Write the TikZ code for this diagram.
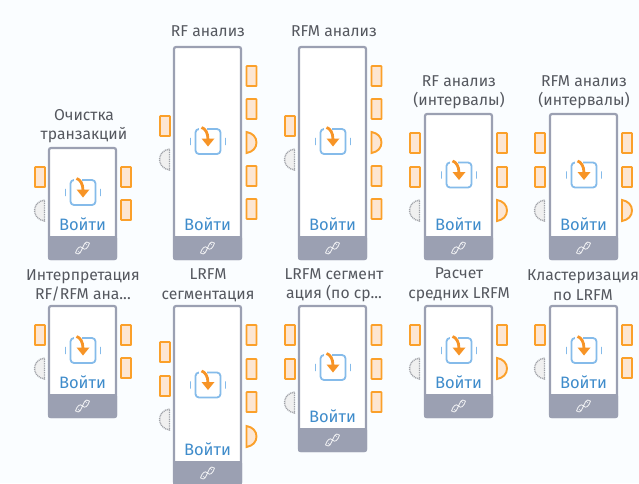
\documentclass[tikz,border=0pt]{standalone}
\usepackage{fontspec}
\setmainfont{Fira Sans}
\definecolor{bg}{HTML}{FAFDFF}
\definecolor{frame}{HTML}{9BA0B2}
\definecolor{port}{HTML}{FBA02A}
\definecolor{portfill}{HTML}{FDE6D2}
\definecolor{grayport}{HTML}{A0A2A8}
\definecolor{iconblue}{HTML}{85BBEA}
\definecolor{iconorange}{HTML}{F79426}
\definecolor{loginblue}{HTML}{3F8CCB}
\definecolor{lab}{HTML}{55585F}
\tikzset{
  x=1pt,y=-1pt,
  blockbody/.style={draw=frame,line width=2.2pt,fill=white,rounded corners=2pt},
  footer/.style={fill=frame,rounded corners=2pt},
  rectport/.style={draw=port,line width=1.9pt,fill=portfill,rounded corners=0.6pt},
  halfport/.style={draw=port,line width=1.9pt,fill=portfill},
  grayhalf/.style={draw=grayport,dash pattern=on 1pt off 0.8pt,line width=1.4pt,fill=black!6},
  helix/.style={draw=white,opacity=.8,line width=.9pt},
  title/.style={font=\fontsize{15.7}{19.5}\selectfont,text=lab,align=center,inner sep=0pt},
  login/.style={font=\fontsize{16.5}{18}\selectfont,text=loginblue,inner sep=0pt},
}
% #1 left x, #2 top y, #3 bottom y, #4 icon y, #5 name
\newcommand{\blockshape}[5]{%
  \draw[blockbody] (#1,#2) rectangle (#1+67,#3);
  \fill[footer] (#1-1,#3-23) rectangle (#1+68,#3+1);
  \draw[helix] (#1+26.5,#3-6) .. controls (#1+31,#3-3) and (#1+32,#3-8) .. (#1+33.5,#3-11) .. controls (#1+35,#3-14) and (#1+36,#3-19) .. (#1+40.5,#3-16);
  \draw[helix] (#1+26.5,#3-6) .. controls (#1+28,#3-11) and (#1+31,#3-14) .. (#1+33.5,#3-11) .. controls (#1+36,#3-8) and (#1+39,#3-11) .. (#1+40.5,#3-16);
  \draw[helix,line width=.6pt] (#1+29,#3-8) -- (#1+31,#3-6) (#1+36,#3-16) -- (#1+38,#3-14);
  \draw[iconblue,line width=1.8pt,rounded corners=3.5pt] (#1+21.5,#4-12.5) rectangle (#1+46.5,#4+12.5);
  \draw[iconblue,line width=1.8pt,line cap=round] (#1+16.5,#4-3) -- (#1+16.5,#4+3) (#1+51.5,#4-3) -- (#1+51.5,#4+3);
  \fill[white] (#1+25,#4-15) rectangle (#1+33,#4-11);
  \draw[iconorange,line width=2.8pt] (#1+27.5,#4-14) .. controls (#1+31,#4-13) and (#1+34,#4-9) .. (#1+34,#4-2);
  \fill[iconorange] (#1+27.5,#4-3) -- (#1+40.5,#4-3) -- (#1+34,#4+5) -- cycle;
  \node[login] (#5) at (#1+33.5,#3-34.5) {Войти};
}
\newcommand{\rp}[2]{\draw[rectport] (#1,#2) rectangle (#1+10,#2+20);}
\newcommand{\hp}[2]{\draw[halfport] (#1,#2) .. controls (#1+6,#2+1) and (#1+10,#2+5) .. (#1+10,#2+10.5) .. controls (#1+10,#2+16) and (#1+6,#2+20) .. (#1,#2+21) -- cycle;}
\newcommand{\gp}[2]{\draw[grayhalf] (#1+10,#2) .. controls (#1+4,#2+1) and (#1,#2+5) .. (#1,#2+10.5) .. controls (#1,#2+16) and (#1+4,#2+20) .. (#1+10,#2+21) -- cycle;}
\begin{document}
\begin{tikzpicture}
\useasboundingbox (0,0) rectangle (639,483);
\fill[bg] (0,0) rectangle (639,483);
\begin{scope}
\clip (0,0) rectangle (639,483);
% row 1
\blockshape{49}{148}{259}{192.5}{b1}
\rp{35}{167}\gp{34.5}{200}\rp{121}{167}\rp{121}{200}
\node[title] (t1) at (84,126) {Очистка\\транзакций};
\blockshape{174}{47}{259}{141.5}{b2}
\rp{160}{116}\gp{159.5}{149}\rp{246.5}{66}\rp{246.5}{99}\hp{246.5}{132}\rp{246.5}{166}\rp{246.5}{199}
\node[title] (t2) at (208,31.5) {RF анализ};
\blockshape{299}{47}{259}{141.5}{b3}
\rp{285}{116}\gp{284.5}{149}\rp{371.5}{66}\rp{371.5}{99}\hp{371.5}{132}\rp{371.5}{166}\rp{371.5}{199}
\node[title] (t3) at (334,31.5) {RFM анализ};
\blockshape{425}{114}{259}{175}{b4}
\rp{410}{133}\rp{410}{167}\gp{409.5}{200}\rp{497}{133}\rp{497}{167}\hp{497}{200}
\node[title] (t4) at (459,92.5) {RF анализ\\(интервалы)};
\blockshape{550}{114}{259}{175}{b5}
\rp{535}{133}\rp{535}{167}\gp{534.5}{200}\rp{622}{133}\rp{622}{167}\hp{622}{200}
\node[title] (t5) at (584,92.5) {RFM анализ\\(интервалы)};
% row 2
\blockshape{49}{306}{417}{350.5}{b6}
\rp{35}{325}\gp{34.5}{358}\rp{121}{325}\rp{121}{358}
\node[title] (t6) at (83,285.5) {Интерпретация\\RF/RFM ана...};
\blockshape{174}{306}{484}{385}{b7}
\rp{160}{342}\rp{160}{376}\gp{159.5}{409}\rp{246.5}{325}\rp{246.5}{359}\rp{246.5}{392}\hp{246.5}{426}
\node[title] (t7) at (208,285.5) {LRFM\\сегментация};
\blockshape{299}{306}{451}{367.5}{b8}
\rp{285}{325}\rp{285}{359}\gp{284.5}{392}\rp{371.5}{325}\rp{371.5}{359}\rp{371.5}{392}
\node[title] (t8) at (334,285.5) {LRFM сегмент\\ация (по ср...};
\blockshape{425}{306}{417}{350.5}{b9}
\rp{410}{325}\gp{409.5}{358}\rp{497}{325}\hp{497}{358}
\node[title] (t9) at (459,285) {Расчет\\средних LRFM};
\blockshape{550}{306}{417}{350.5}{b10}
\rp{535}{325}\gp{534.5}{358}\rp{622}{325}\rp{622}{358}
\node[title] (t10) at (583,285) {Кластеризация\\по LRFM};
\end{scope}
\end{tikzpicture}
\end{document}
